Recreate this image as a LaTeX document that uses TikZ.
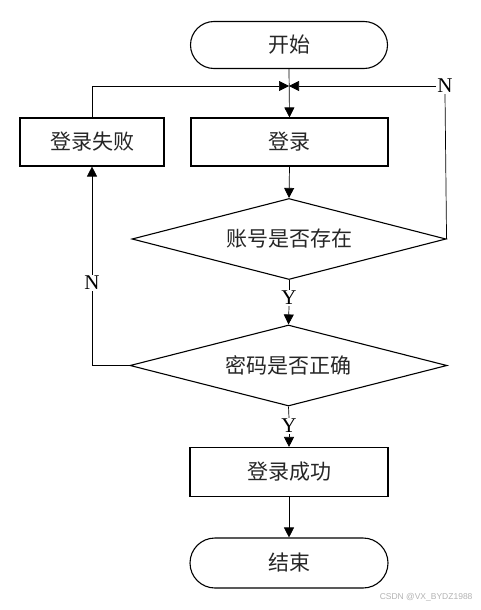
\documentclass[tikz,border=0pt]{standalone}
\usepackage{fontspec}
\setmainfont{Liberation Serif}
\newfontfamily\cjk{Noto Sans CJK SC}
\newfontfamily\wm{Liberation Sans}
\usetikzlibrary{arrows.meta,shapes.geometric,shapes.misc}
\begin{document}
\begin{tikzpicture}[x=1pt,y=-1pt,
  txt/.style={text=black!85,font=\cjk\fontsize{21}{21}\selectfont},
  box/.style={draw,line width=1.1pt,rectangle,minimum width=197pt,minimum height=48pt,inner sep=0pt,txt},
  term/.style={draw,line width=1.1pt,rounded rectangle,minimum width=197pt,minimum height=47pt,inner sep=0pt,txt},
  dia/.style={draw,line width=1.1pt,diamond,aspect=3.9,inner sep=0pt,txt},
  lbl/.style={inner sep=1pt,font=\fontsize{21}{21}\selectfont},
  conn/.style={line width=0.7pt},
  arr/.style={conn,-{Triangle[length=10pt,width=10pt]}}
]
\useasboundingbox (0,0) rectangle (480,610);
\node[term] (start) at (289,45) {开始};
\node[box] (login) at (289.5,142) {登录};
\node[box,minimum width=144pt] (fail) at (92,142) {登录失败};
\node[dia,minimum width=314pt,minimum height=81pt] (d1) at (289,239) {账号是否存在};
\node[dia,minimum width=317pt,minimum height=81pt] (d2) at (288.5,365.5) {密码是否正确};
\node[box,minimum width=198pt,minimum height=49pt] (succ) at (289,472) {登录成功};
\node[term,minimum width=198pt,minimum height=50pt] (end) at (289,563) {结束};
\coordinate (J) at (289,86);
\node[lbl] (Nr) at (445,86) {N};
\node[lbl] (Nl) at (92,283) {N};
\node[lbl] (Y1) at (289,298) {Y};
\node[lbl] (Y2) at (289,426) {Y};
\node[text=black!30,font=\wm\fontsize{8.5}{8.5}\selectfont,anchor=east] (wm) at (476,597) {CSDN @VX\_BYDZ1988};
\draw[arr] (start.south) -- (login.north);
\draw[arr] (fail.north) |- (J);
\draw[conn] (d1.east) -- (Nr.south);
\draw[arr] (Nr.west) -- (J);
\draw[arr] (login.south) -- (d1.north);
\draw[conn] (d1.south) -- (Y1.north);
\draw[arr] (Y1.south) -- (d2.north);
\draw[conn] (d2.west) -| (Nl.south);
\draw[arr] (Nl.north) -- (fail.south);
\draw[conn] (d2.south) -- (Y2.north);
\draw[arr] (Y2.south) -- (succ.north);
\draw[arr] (succ.south) -- (end.north);
\end{tikzpicture}
\end{document}
